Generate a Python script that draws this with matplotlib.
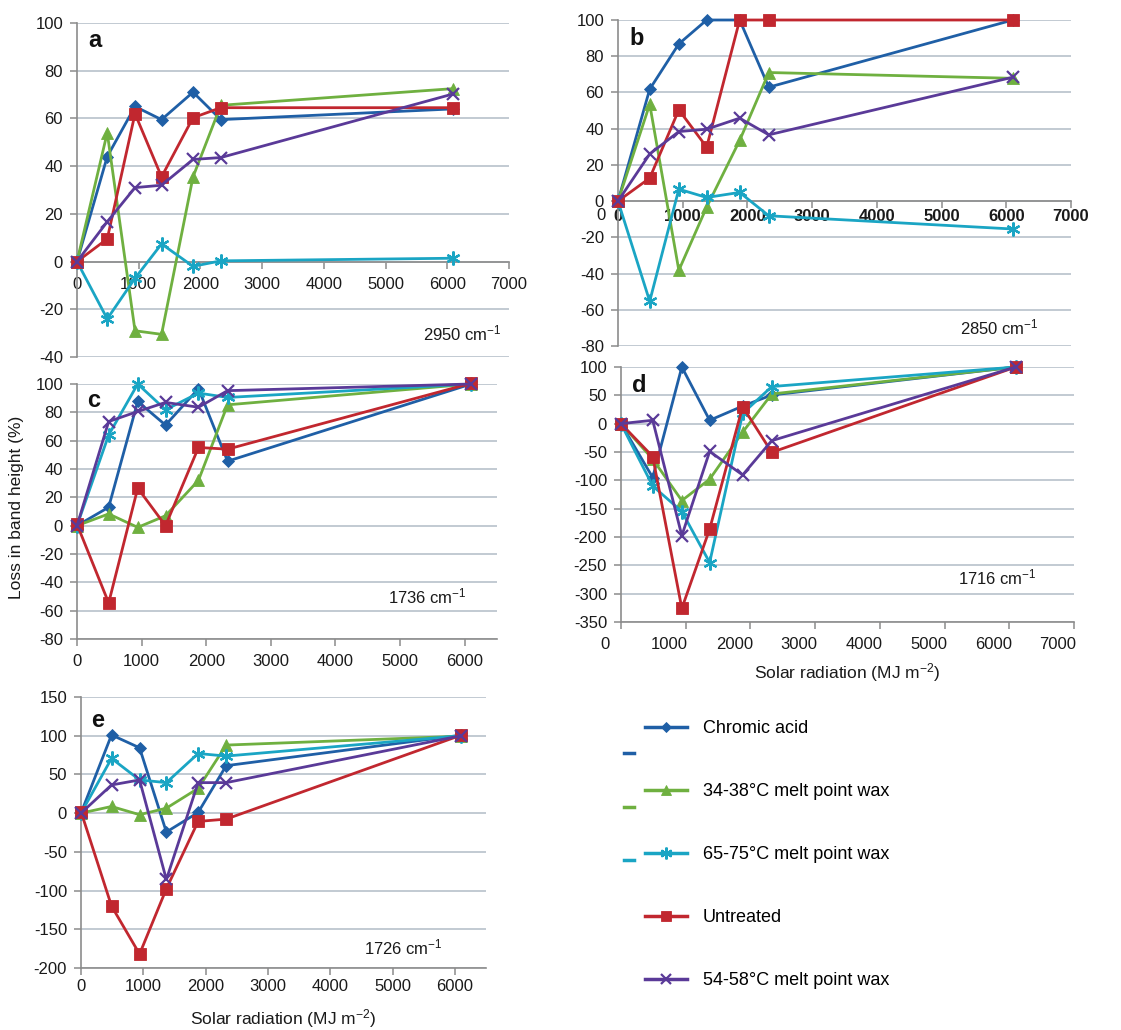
import matplotlib
matplotlib.use('Agg')
import matplotlib.pyplot as plt
from matplotlib.lines import Line2D
from matplotlib.transforms import ScaledTranslation

plt.rcParams['font.family'] = ['Liberation Sans', 'DejaVu Sans']
plt.rcParams['mathtext.default'] = 'regular'
plt.rcParams['axes.unicode_minus'] = False

# solar radiation dose at each sampling (MJ m-2)
x_rad = [0, 490, 940, 1370, 1880, 2330, 6100]

# panel a, 2950 cm-1
a_chromic = [0, 44, 65, 59.5, 71, 59.5, 64]
a_wax34 = [0, 54, -29, -30.5, 35.5, 65.5, 72.5]
a_wax65 = [0, -24, -7, 7.4, -2, 0.3, 1.4]
a_untreated = [0, 9.5, 62, 35.5, 60.3, 64.5, 64.5]
a_wax54 = [0, 16.7, 31, 32, 42.8, 43.6, 70.3]

# panel b, 2850 cm-1
b_chromic = [0, 61.8, 86.8, 100, 100, 62.9, 100]
b_wax34 = [0, 53.5, -38.2, -3.3, 33.5, 71, 67.8]
b_wax65 = [0, -55.3, 6.6, 2, 4.8, -8.1, -15.4]
b_untreated = [0, 12.7, 50.4, 29.8, 100, 100, 100]
b_wax54 = [0, 26, 38.4, 39.7, 45.8, 36.6, 68.4]

# panel c, 1736 cm-1
c_chromic = [0, 13, 87.7, 71, 96.7, 45.5, 100]
c_wax34 = [0, 8.3, -1.2, 7, 32, 85.3, 100]
c_wax65 = [0, 64, 100, 81.8, 93.6, 90.5, 100]
c_untreated = [1, -54.5, 26.5, 0, 55.2, 54, 100.5]
c_wax54 = [0, 73.5, 80.6, 87, 83.6, 95.3, 100]

# panel d, 1716 cm-1
d_chromic = [0, -95, 100, 6, 31, 50.6, 100]
d_wax34 = [0, -62.5, -135.7, -98, -15, 52.4, 100]
d_wax65 = [0, -110, -155, -245, 18, 65.5, 100]
d_untreated = [0, -58, -326, -186, 30, -50.6, 100]
d_wax54 = [0, 6, -197.6, -49, -90.5, -30, 100]

# panel e, 1726 cm-1
e_chromic = [0, 101, 84.4, -24.4, 0.9, 61.3, 100.7]
e_wax34 = [0, 8.6, -2, 6.4, 32, 87.9, 99.4]
e_wax65 = [0, 70.7, 42.9, 39.4, 77, 73.7, 100]
e_untreated = [2, -120, -182, -97.7, -10.7, -7.7, 100.7]
e_wax54 = [0, 36.4, 42.9, -85.7, 39.4, 39.4, 100]

series_labels = ['Chromic acid', '34-38°C melt point wax', '65-75°C melt point wax',
                 'Untreated', '54-58°C melt point wax']
series_colors = ['#1F5FA6', '#6FB040', '#1AA5C4', '#C1272F', '#5A3A98']
series_markers = ['D', '^', (6, 2, 0), 's', 'x']
series_msize = [6, 8, 10, 8.5, 9]

GRID = '#B7C1CB'
AXIS = '#8C8C8C'
TXT = '#1A1A1A'
TICK_FS = 12

fig = plt.figure(figsize=(11.21, 10.30), dpi=100)


def fx(px):
    return px / 1121


def fy(py):
    return 1 - py / 1030


def edge_width(m):
    return 1.6 if (m == 'x' or isinstance(m, tuple)) else 0.6


panels = [
    # key, series, box px (left, bottom, right, top), xmax, xticks, ylim, ystep,
    # wavenumber, its position, x axis at zero, x label pad, panel letter height
    ('a', [a_chromic, a_wax34, a_wax65, a_untreated, a_wax54], (77, 357, 509, 23),
     7000, range(0, 7001, 1000), (-40, 100), 20, '2950', (0.80, 0.07), True, 6, 0.949),
    ('b', [b_chromic, b_wax34, b_wax65, b_untreated, b_wax54], (618, 346, 1071, 20),
     7000, range(0, 7001, 1000), (-80, 100), 20, '2850', (0.755, 0.058), True, 1, 0.942),
    ('c', [c_chromic, c_wax34, c_wax65, c_untreated, c_wax54], (77, 639, 497, 384),
     6500, range(0, 6001, 1000), (-80, 100), 20, '1736', (0.74, 0.165), False, 6, 0.937),
    ('d', [d_chromic, d_wax34, d_wax65, d_untreated, d_wax54], (621, 622, 1074, 367),
     7000, range(0, 7001, 1000), (-350, 100), 50, '1716', (0.745, 0.173), False, 6, 0.929),
    ('e', [e_chromic, e_wax34, e_wax65, e_untreated, e_wax54], (81, 968, 486, 697),
     6500, range(0, 6001, 1000), (-200, 150), 50, '1726', (0.70, 0.074), False, 3, 0.915),
]

axes = {}
for key, data, box, xmax, xticks, ylim, ystep, wn, wnpos, zero_axis, xpad, ky in panels:
    l, b, r, t = box
    ax = fig.add_axes([fx(l), fy(b), fx(r - l), (b - t) / 1030])
    axes[key] = ax
    for vals, lab, col, mk, ms in zip(data, series_labels, series_colors,
                                      series_markers, series_msize):
        ax.plot(x_rad, vals, color=col, lw=2, marker=mk, ms=ms, mew=edge_width(mk),
                mec=col, mfc=col, label=lab, clip_on=False, zorder=3)
    ax.set_xlim(0, xmax)
    ax.set_ylim(*ylim)
    ax.set_xticks(list(xticks))
    ax.set_yticks(range(ylim[0], ylim[1] + 1, ystep))
    ax.yaxis.grid(True, color=GRID, lw=1.2)
    ax.set_axisbelow(True)
    for s in ('top', 'right'):
        ax.spines[s].set_visible(False)
    for s in ('left', 'bottom'):
        ax.spines[s].set_color(AXIS)
        ax.spines[s].set_linewidth(1.2)
    if zero_axis:
        ax.spines['bottom'].set_position(('data', 0))
    ax.tick_params(direction='out', length=5, color=AXIS, labelsize=TICK_FS,
                   labelcolor=TXT, width=1.1)
    ax.tick_params(axis='x', pad=xpad)
    ax.tick_params(axis='y', pad=5)
    ax.text(0.025, ky, key, transform=ax.transAxes, fontsize=17, fontweight='bold',
            ha='left', va='center', color='#111111')
    ax.text(wnpos[0], wnpos[1], wn + ' cm$^{-1}$', transform=ax.transAxes,
            fontsize=TICK_FS, ha='left', va='center', color=TXT)

# panel b tick labels look overprinted in the original
for lab in axes['b'].get_xticklabels():
    lab.set_fontweight('bold')
fig.text(fx(601), fy(215), '0', ha='center', va='center', fontsize=TICK_FS, color=TXT)

# panel d x tick labels sit a little left of their ticks
shift = ScaledTranslation(-16 / 100, 0, fig.dpi_scale_trans)
for lab in axes['d'].get_xticklabels():
    lab.set_transform(lab.get_transform() + shift)

axes['d'].set_xlabel('Solar radiation (MJ m$^{-2}$)', fontsize=12.5, labelpad=6,
                     color=TXT)
axes['e'].set_xlabel('Solar radiation (MJ m$^{-2}$)', fontsize=12.5, labelpad=9,
                     color=TXT)
fig.text(fx(17), fy(507), 'Loss in band height (%)', rotation=90, ha='center',
         va='center', fontsize=12.5, color=TXT)

# legend
handles = [Line2D([0], [0], color=c, lw=2.5, marker=m, ms=ms * 0.85, mew=edge_width(m),
                  mec=c, mfc=c)
           for c, m, ms in zip(series_colors, series_markers, series_msize)]
fig.legend(handles, series_labels, loc='upper left', bbox_to_anchor=(fx(645), fy(720)),
           frameon=False, fontsize=13, handlelength=2.3, handletextpad=0.9,
           labelspacing=2.55, borderpad=0, borderaxespad=0)

# stray dash fragments beside the legend
for py, col in [(753, series_colors[0]), (807, series_colors[1]), (860, series_colors[2])]:
    fig.add_artist(Line2D([fx(624), fx(634)], [fy(py), fy(py)], color=col, lw=2.5))

fig.savefig('out.png', dpi=100)
